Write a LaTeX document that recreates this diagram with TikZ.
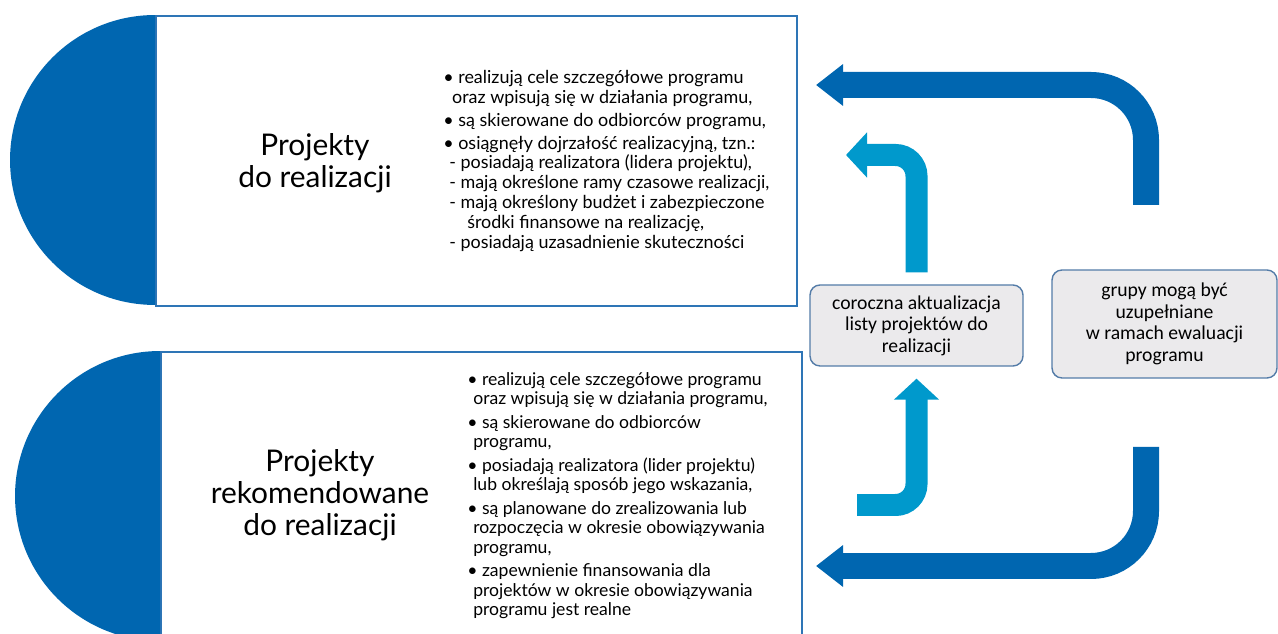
\documentclass[tikz,border=0pt]{standalone}
\usepackage{fontspec}
\setmainfont{Lato}
\newfontfamily\notefont{Carlito}
\usetikzlibrary{arrows.meta,positioning}
\definecolor{cDark}{RGB}{0,102,176}
\definecolor{cLight}{RGB}{0,153,204}
\definecolor{cLine}{RGB}{46,117,182}
\definecolor{cNoteLine}{RGB}{84,124,168}
\definecolor{cNoteFill}{RGB}{235,234,236}

\begin{document}
\begin{tikzpicture}[x=0.02cm,y=-0.02cm,
    panel/.style={rectangle,draw=cLine,line width=1.1pt,fill=white,anchor=north west,inner sep=0pt},
    title/.style={font=\fontsize{17}{18.1}\selectfont,align=center},
    list/.style={align=left,inner sep=0pt,anchor=north west},
    note/.style={rectangle,draw=cNoteLine,fill=cNoteFill,rounded corners=0.2cm,line width=0.8pt,
      font=\notefont\fontsize{11.2}{12.2}\selectfont,align=center},
    bigarrow/.style={cDark,line width=0.52cm,rounded corners=1.1cm,-{Triangle[width=0.8cm,length=0.54cm]}},
    smallarrow/.style={cLight,line width=0.44cm,rounded corners=0.42cm,-{Triangle[width=0.88cm,length=0.42cm]}}
  ]
  \clip (0,0) rectangle (1278,634);
  \fill[white] (0,0) rectangle (1278,634);

  \node[panel,minimum width=12.82cm,minimum height=5.8cm] (ptop) at (155,15) {};
  \node[panel,minimum width=12.82cm,minimum height=7cm] (pbot) at (160,351) {};
  \begin{scope}
    \clip (0,15) rectangle (155,305);
    \fill[cDark] (155,160) circle[radius=2.9cm];
  \end{scope}
  \begin{scope}
    \clip (0,351) rectangle (160,640);
    \fill[cDark] (160,496) circle[radius=2.9cm];
  \end{scope}

  \node[title] (ttop) at (315,163) {Projekty\\do realizacji};
  \node[title] (tbot) at (320,495) {Projekty\\rekomendowane\\do realizacji};

  \node[list,font=\fontsize{10.2}{11.3}\selectfont] (ltop) at (443,70) {%
    • realizują cele szczegółowe programu\\
    \hspace*{5pt}oraz wpisują się w działania programu,\\[1.7pt]
    • są skierowane do odbiorców programu,\\[1.7pt]
    • osiągnęły dojrzałość realizacyjną, tzn.:\\
    \hspace*{3.4pt}- posiadają realizatora (lidera projektu),\\
    \hspace*{3.4pt}- mają określone ramy czasowe realizacji,\\
    \hspace*{3.4pt}- mają określony budżet i zabezpieczone\\
    \hspace*{13.6pt}środki finansowe na realizację,\\
    \hspace*{3.4pt}- posiadają uzasadnienie skuteczności};
  \node[list,font=\fontsize{10}{11}\selectfont] (lbot) at (467,372) {%
    • realizują cele szczegółowe programu\\
    \hspace*{3.4pt}oraz wpisują się w działania programu,\\[2.5pt]
    • są skierowane do odbiorców\\
    \hspace*{3.4pt}programu,\\[2.5pt]
    • posiadają realizatora (lider projektu)\\
    \hspace*{3.4pt}lub określają sposób jego wskazania,\\[2.5pt]
    • są planowane do zrealizowania lub\\
    \hspace*{3.4pt}rozpoczęcia w okresie obowiązywania\\
    \hspace*{3.4pt}programu,\\[2.5pt]
    • zapewnienie finansowania dla\\
    \hspace*{3.4pt}projektów w okresie obowiązywania\\
    \hspace*{3.4pt}programu jest realne};

  \node[note,minimum width=4.26cm,minimum height=1.62cm] (yearly) at (916.5,325.5)
    {coroczna aktualizacja\\listy projektów do\\realizacji};
  \node[note,minimum width=4.5cm,minimum height=2.16cm] (groups) at (1164.5,324)
    {grupy mogą być\\uzupełniane\\w ramach ewaluacji\\programu};

  \coordinate (upfrom) at (1146,205);
  \coordinate (upto) at (816,85);
  \coordinate (downfrom) at (1146,447);
  \coordinate (downto) at (816,566);
  \coordinate (newto) at (846,155);
  \coordinate (recfrom) at (857,505);

  \draw[bigarrow] (upfrom) |- (upto);
  \draw[bigarrow] (downfrom) |- (downto);
  \draw[smallarrow] ([yshift=0.24cm]yearly.north) |- (newto);
  \draw[smallarrow] (recfrom) -| ([yshift=-0.24cm]yearly.south);
\end{tikzpicture}
\end{document}
